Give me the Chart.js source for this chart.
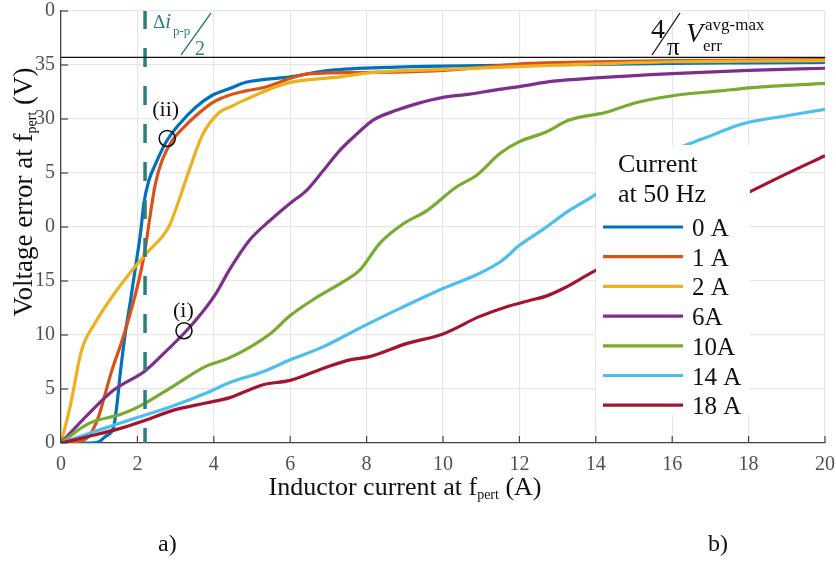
<!DOCTYPE html>
<html>
<head>
<meta charset="utf-8">
<script src="https://cdn.jsdelivr.net/npm/chart.js@4.4.1/dist/chart.umd.min.js"></script>
<style>
html,body{margin:0;padding:0;background:#fff;}
#wrap{width:836px;height:563px;}
</style>
</head>
<body>
<div id="wrap"><canvas id="c" width="836" height="563"></canvas></div>
<script>
// ---- data (inductor current at f_pert [A], voltage error [V]) ----
const seriesLabels = ['0 A', '1 A', '2 A', '6A', '10A', '14 A', '18 A'];
const seriesColors = ['#0072BD', '#D95319', '#EDB120', '#7E2F8E', '#77AC30', '#4DBEEE', '#A2142F'];
const s0A = [[0,0],[0.72,0],[0.98,0.1],[1.16,0.6],[1.38,1.5],[1.46,3.4],[1.55,6.4],[1.68,10.1],[1.82,13.2],[1.95,16.3],[2.08,19.4],[2.17,22.2],[2.3,24.3],[2.47,25.8],[2.74,27.8],[3.09,29.5],[3.53,31.1],[3.96,32.2],[4.4,32.8],[4.84,33.4],[6.0,33.9],[7.04,34.5],[8.78,34.8],[10,34.9],[12.27,35.0],[14,35.05],[16,35.15],[18,35.2],[20,35.25]];
const s1A = [[0,0],[0.37,0.1],[0.72,0.6],[0.98,2.4],[1.16,4.6],[1.33,6.7],[1.6,9.5],[1.86,12.6],[2.08,15.7],[2.21,18.1],[2.34,21.2],[2.47,24.0],[2.65,26.2],[2.91,28.0],[3.18,29.1],[3.53,30.3],[3.96,31.5],[4.4,32.2],[4.84,32.6],[5.29,32.9],[6.51,34.2],[7.9,34.3],[10,34.5],[12.27,35.15],[14,35.3],[16,35.4],[18,35.45],[20,35.5]];
const s2A = [[0,0],[0.24,3.4],[0.54,8.6],[0.89,11.1],[1.33,13.5],[1.86,16.0],[2.3,17.8],[2.82,20.0],[3.09,22.5],[3.35,25.2],[3.7,28.5],[4.14,30.6],[4.42,31.1],[4.77,31.7],[5.9,33.3],[7.3,33.9],[8.1,34.3],[10,34.6],[12.27,34.9],[14,35.1],[16,35.3],[18,35.35],[20,35.4]];
const s6A = [[0,0],[0.72,2.7],[1.38,4.9],[2.21,6.7],[2.78,8.6],[3.26,10.3],[3.7,12.1],[4.05,13.8],[4.42,16.1],[4.94,18.8],[5.47,20.6],[6.0,22.2],[6.43,23.4],[6.86,25.2],[7.3,27.1],[7.74,28.6],[8.17,29.9],[8.78,30.8],[9.3,31.4],[10,32.0],[10.7,32.3],[11.4,32.7],[12.0,33.0],[12.89,33.5],[14,33.8],[16,34.2],[18,34.5],[20,34.7]];
const s10A = [[0,0],[0.72,1.8],[1.6,2.7],[2.21,3.7],[2.91,5.2],[3.79,7.1],[4.42,7.9],[5.47,10.1],[6.0,11.8],[6.7,13.5],[7.47,15.1],[7.82,16.0],[8.35,18.5],[8.96,20.3],[9.57,21.5],[10.35,23.7],[10.88,24.8],[11.49,26.8],[12.0,27.9],[12.7,28.8],[13.3,29.9],[14.25,30.6],[15.05,31.5],[16.1,32.2],[17.25,32.6],[18.1,32.9],[20,33.3]];
const s14A = [[0,0],[1.16,1.4],[2.04,2.4],[2.91,3.4],[3.79,4.6],[4.42,5.6],[5.29,6.6],[6.0,7.7],[6.86,8.9],[7.91,10.8],[8.78,12.3],[10.0,14.3],[10.95,15.7],[11.55,16.9],[12.0,18.3],[12.63,19.8],[13.25,21.4],[13.95,22.9],[14.5,24.3],[15.0,25.4],[15.5,26.3],[16.0,27.1],[16.9,28.3],[17.7,29.4],[18.0,29.7],[19.0,30.3],[20,30.9]];
const s18A = [[0,0],[0.72,0.6],[1.6,1.4],[2.21,2.1],[2.91,3.0],[3.79,3.7],[4.42,4.2],[4.84,4.8],[5.29,5.4],[6.0,5.8],[6.86,6.9],[7.56,7.7],[8.08,8.0],[9.04,9.2],[10.0,10.1],[10.95,11.7],[11.65,12.6],[12.27,13.2],[12.7,13.6],[13.2,14.4],[13.9,15.8],[15,17.8],[16,19.6],[17,21.4],[18.0,23.2],[18.8,24.6],[20,26.6]];
const allSeries = [s0A, s1A, s2A, s6A, s10A, s14A, s18A];

const xTickValues = [0, 2, 4, 6, 8, 10, 12, 14, 16, 18, 20];
const yTickValues = [0, 5, 10, 15, 20, 25, 30, 35, 40];
const yTickLabels = ['0', '5', '10', '15', '0', '5', '30', '35', '0'];

const deltaIHalf = 2.2;      // Δi_p-p / 2
const vErrLimit = 35.7;      // 4/π V_err^avg-max
const markerII = [2.78, 28.2];
const markerI = [3.22, 10.4];

const FONT = '"Liberation Serif", "Times New Roman", serif';
const TEAL = '#2E7F7C';

const toXY = a => a.map(p => ({x: p[0], y: p[1]}));

const datasets = allSeries.map((s, i) => ({
  label: seriesLabels[i],
  data: toXY(s),
  borderColor: seriesColors[i],
  backgroundColor: seriesColors[i],
  borderWidth: 3.2,
  pointRadius: 0,
  cubicInterpolationMode: 'monotone',
  fill: false,
  order: 10 - i
}));
datasets.push({
  label: 'limit',
  data: [{x: 0, y: vErrLimit}, {x: 20, y: vErrLimit}],
  borderColor: '#111', borderWidth: 1.3, pointRadius: 0, order: 0
});
datasets.push({
  label: 'dI',
  data: [{x: deltaIHalf, y: 0}, {x: deltaIHalf, y: 40}],
  borderColor: TEAL, borderWidth: 3.5, borderDash: [19, 19], borderDashOffset: 4, pointRadius: 0, order: 1
});

function drawRich(ctx, parts, x, y) {
  let cx = x;
  for (const p of parts) {
    ctx.font = (p.italic ? 'italic ' : '') + p.size + 'px ' + FONT;
    ctx.fillText(p.t, cx, y + (p.dy || 0));
    cx += ctx.measureText(p.t).width + (p.gap || 0);
  }
  return cx - x;
}
function richWidth(ctx, parts) {
  let w = 0;
  for (const p of parts) {
    ctx.font = (p.italic ? 'italic ' : '') + p.size + 'px ' + FONT;
    w += ctx.measureText(p.t).width + (p.gap || 0);
  }
  return w;
}

const decor = {
  id: 'decor',
  afterDatasetsDraw(chart) {
    const ctx = chart.ctx;
    const xs = chart.scales.x, ys = chart.scales.y;
    const ca = chart.chartArea;
    ctx.save();
    // inward tick marks
    ctx.strokeStyle = '#444'; ctx.lineWidth = 1.2;
    for (const v of xTickValues) {
      const px = xs.getPixelForValue(v);
      ctx.beginPath(); ctx.moveTo(px, ca.bottom); ctx.lineTo(px, ca.bottom - 7); ctx.stroke();
    }
    for (const v of yTickValues) {
      const py = ys.getPixelForValue(v);
      ctx.beginPath(); ctx.moveTo(ca.left, py); ctx.lineTo(ca.left + 7, py); ctx.stroke();
    }
    // markers
    ctx.strokeStyle = '#111'; ctx.lineWidth = 1.6;
    for (const m of [markerII, markerI]) {
      ctx.beginPath();
      ctx.arc(xs.getPixelForValue(m[0]), ys.getPixelForValue(m[1]), 8, 0, Math.PI * 2);
      ctx.stroke();
    }
    ctx.fillStyle = '#111'; ctx.textBaseline = 'alphabetic'; ctx.textAlign = 'left';
    ctx.font = '22px ' + FONT;
    ctx.fillText('(ii)', xs.getPixelForValue(markerII[0]) - 15, ys.getPixelForValue(markerII[1]) - 22);
    ctx.fillText('(i)', xs.getPixelForValue(markerI[0]) - 11, ys.getPixelForValue(markerI[1]) - 14);

    // Δi p-p / 2
    ctx.fillStyle = TEAL; ctx.strokeStyle = TEAL; ctx.lineWidth = 1.3;
    drawRich(ctx, [{t: 'Δ', size: 19}, {t: 'i', size: 21, italic: true}], 153, 28);
    ctx.font = '13px ' + FONT; ctx.fillText('p-p', 173, 35);
    ctx.beginPath(); ctx.moveTo(181, 55); ctx.lineTo(211, 13); ctx.stroke();
    ctx.font = '20px ' + FONT; ctx.fillText('2', 195, 55);

    // 4/π V_err^avg-max
    ctx.fillStyle = '#111'; ctx.strokeStyle = '#111';
    ctx.font = '28px ' + FONT; ctx.fillText('4', 651, 38);
    ctx.beginPath(); ctx.moveTo(652, 55); ctx.lineTo(680, 13); ctx.stroke();
    ctx.font = '25px ' + FONT; ctx.fillText('π', 667, 55);
    ctx.font = 'italic 28px ' + FONT; ctx.fillText('V', 686, 42);
    ctx.font = '17px ' + FONT; ctx.fillText('avg-max', 705, 30);
    ctx.fillText('err', 703, 51);

    // legend box
    const lx = 596, ly = 145, lw = 154, lh = 270;
    ctx.fillStyle = '#fff'; ctx.fillRect(lx, ly, lw, lh);
    ctx.fillStyle = '#111';
    ctx.font = '26px ' + FONT;
    ctx.fillText('Current', 618, 172);
    ctx.fillText('at 50 Hz', 618, 202);
    ctx.font = '25px ' + FONT;
    for (let i = 0; i < seriesLabels.length; i++) {
      const cy = 227 + i * 29.7;
      ctx.strokeStyle = seriesColors[i]; ctx.lineWidth = 3.2;
      ctx.beginPath(); ctx.moveTo(603, cy); ctx.lineTo(683, cy); ctx.stroke();
      ctx.fillStyle = '#111';
      ctx.fillText(seriesLabels[i], 692, cy + 9);
    }

    // axis titles
    ctx.fillStyle = '#111';
    const xt = [{t: 'Inductor current at f', size: 26}, {t: 'pert', size: 14, dy: 4}, {t: ' (A)', size: 26}];
    const xw = richWidth(ctx, xt);
    drawRich(ctx, xt, 405 - xw / 2, 495);
    ctx.save();
    ctx.translate(32, 192); ctx.rotate(-Math.PI / 2);
    const yt = [{t: 'Voltage error at f', size: 27}, {t: 'pert', size: 14, dy: 4}, {t: ' (V)', size: 27}];
    const yw = richWidth(ctx, yt);
    drawRich(ctx, yt, -yw / 2, 0);
    ctx.restore();

    // panel labels
    ctx.font = '24px ' + FONT;
    ctx.fillText('a)', 158, 551);
    ctx.fillText('b)', 708, 551);
    ctx.restore();
  }
};

new Chart(document.getElementById('c'), {
  type: 'line',
  data: {datasets},
  options: {
    responsive: false,
    animation: false,
    devicePixelRatio: 1,
    layout: {padding: {top: 11, right: 11, left: 0, bottom: 0}},
    plugins: {legend: {display: false}, tooltip: {enabled: false}},
    scales: {
      x: {
        type: 'linear', min: 0, max: 20,
        afterBuildTicks: s => { s.ticks = xTickValues.map(v => ({value: v})); },
        afterFit: s => { s.height = 120; s.paddingLeft = 0; s.paddingRight = 0; },
        grid: {color: '#e6e6e6', lineWidth: 1.2, drawTicks: false},
        border: {color: '#444', width: 1.3},
        ticks: {padding: 10, color: '#505050', font: {family: FONT, size: 20}, maxRotation: 0}
      },
      y: {
        type: 'linear', min: 0, max: 40,
        afterBuildTicks: s => { s.ticks = yTickValues.map(v => ({value: v})); },
        afterFit: s => { s.width = 61; s.paddingTop = 0; s.paddingBottom = 0; },
        grid: {color: '#e6e6e6', lineWidth: 1.2, drawTicks: false},
        border: {color: '#444', width: 1.3},
        ticks: {
          padding: 6, color: '#505050', font: {family: FONT, size: 20},
          callback: (v) => { const i = yTickValues.indexOf(v); return i >= 0 ? yTickLabels[i] : ''; }
        }
      }
    }
  },
  plugins: [decor]
});
</script>
</body>
</html>
